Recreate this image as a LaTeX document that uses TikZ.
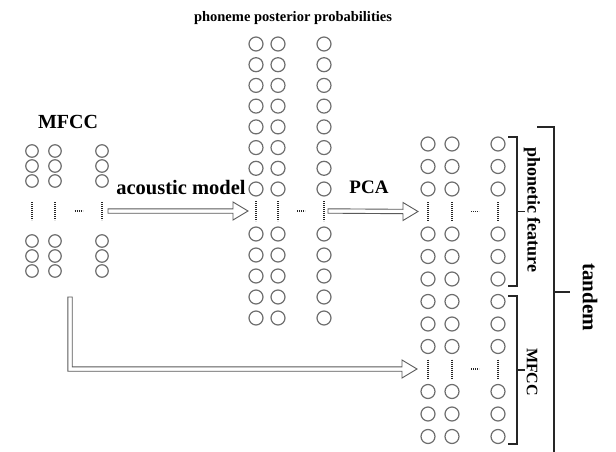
\documentclass[tikz,border=0pt]{standalone}
\usepackage{fontspec}
\setmainfont{Liberation Serif}
\usetikzlibrary{calc}
\definecolor{unitgray}{HTML}{6E6E6E}
\definecolor{linegray}{HTML}{5A5A5A}
\definecolor{inkgray}{HTML}{262626}
\begin{document}
\begin{tikzpicture}[x=1pt,y=-1pt,
  unit/.style={circle,draw=unitgray,line width=1.2pt,minimum size=12.5pt,inner sep=0pt},
  bigunit/.style={unit,minimum size=14pt},
  vdots/.style={draw=inkgray,line width=1.3pt,dash pattern=on 0.8pt off 1.2pt},
  hdots/.style={draw=inkgray,line width=1.3pt,dash pattern=on 0.8pt off 1.2pt},
  flow/.style={draw=linegray,line width=0.9pt,fill=white,line join=miter},
  brk/.style={draw=inkgray,line width=1.1pt},
  lbl/.style={font=\bfseries\fontsize{#1}{#1}\selectfont,inner sep=0pt,text=black}
]
\useasboundingbox (0,0) rectangle (616,452);

% ---- MFCC input frames ----
\foreach \c/\cx in {1/32,2/55,3/102}{
  \foreach \r/\ry in {1/151,2/166,3/181,4/241,5/256,6/271}
    \node[unit] (a-\r-\c) at (\cx,\ry) {};
  \coordinate (a-dots-\c) at (\cx,211);
  \draw[vdots] ($(a-dots-\c)+(0,-9)$) -- ($(a-dots-\c)+(0,9)$);
}
\draw[hdots] ($(a-dots-2)!0.5!(a-dots-3)+(-4,0)$) -- ($(a-dots-2)!0.5!(a-dots-3)+(4,0)$);

% ---- phoneme posterior layer ----
\foreach \c/\cx in {1/256,2/278,3/324}{
  \foreach \r/\ry in {1/44,2/64.7,3/85.4,4/106.1,5/126.9,6/147.6,7/168.3,8/189,
                      9/234,10/255,11/276,12/297,13/318}
    \node[bigunit] (p-\r-\c) at (\cx,\ry) {};
  \coordinate (p-dots-\c) at (\cx,211);
  \draw[vdots] ($(p-dots-\c)+(0,-10)$) -- ($(p-dots-\c)+(0,10)$);
}
\draw[hdots] ($(p-dots-2)!0.5!(p-dots-3)+(-4,0)$) -- ($(p-dots-2)!0.5!(p-dots-3)+(4,0)$);

% ---- tandem feature vector ----
\foreach \c/\cx in {1/428,2/452,3/498}{
  \foreach \r/\ry in {1/144,2/166.5,3/189,4/234,5/256.5,6/279,
                      7/301.5,8/324,9/346.5,10/391.5,11/414,12/436.5}
    \node[bigunit] (r-\r-\c) at (\cx,\ry) {};
  \coordinate (r-dots-\c) at (\cx,211.5);
  \coordinate (r-dotsb-\c) at (\cx,369);
  \draw[vdots] ($(r-dots-\c)+(0,-9.5)$) -- ($(r-dots-\c)+(0,9.5)$);
  \draw[vdots] ($(r-dotsb-\c)+(0,-9.5)$) -- ($(r-dotsb-\c)+(0,9.5)$);
}
\draw[hdots] ($(r-dots-2)!0.5!(r-dots-3)+(-4,0)$) -- ($(r-dots-2)!0.5!(r-dots-3)+(4,0)$);
\draw[hdots] ($(r-dotsb-2)!0.5!(r-dotsb-3)+(-4,0)$) -- ($(r-dotsb-2)!0.5!(r-dotsb-3)+(4,0)$);

% ---- hollow flow arrows ----
\coordinate (am-s) at ($(a-dots-3)+(6,0)$);
\coordinate (am-e) at ($(p-dots-1)+(-8,0)$);
\draw[flow] ($(am-s)+(0,-2.2)$) -- ($(am-e)+(-15,-2.2)$) -- ($(am-e)+(-15,-9)$) -- (am-e)
  -- ($(am-e)+(-15,9)$) -- ($(am-e)+(-15,2.2)$) -- ($(am-s)+(0,2.2)$) -- cycle;

\coordinate (pca-s) at ($(p-dots-3)+(4,0)$);
\coordinate (pca-e) at ($(r-dots-1)+(-10,0)$);
\draw[flow] ($(pca-s)+(0,-2.2)$) -- ($(pca-e)+(-15,-2.2)$) -- ($(pca-e)+(-15,-9)$) -- (pca-e)
  -- ($(pca-e)+(-15,9)$) -- ($(pca-e)+(-15,2.2)$) -- ($(pca-s)+(0,2.2)$) -- cycle;

\coordinate (sk-s) at (70,297);
\coordinate (sk-e) at ($(r-dotsb-1)+(-11,0)$);
\coordinate (sk-k) at (sk-s |- sk-e);
\draw[flow] ($(sk-s)+(-2.2,0)$) -- ($(sk-k)+(-2.2,2.2)$) -- ($(sk-e)+(-15,2.2)$)
  -- ($(sk-e)+(-15,9)$) -- (sk-e) -- ($(sk-e)+(-15,-9)$) -- ($(sk-e)+(-15,-2.2)$)
  -- ($(sk-k)+(2.2,-2.2)$) -- ($(sk-s)+(2.2,0)$) -- cycle;

% ---- labels ----
\node[lbl=14.5] (title) at (293,18) {phoneme posterior probabilities};
\node[lbl=20] (mfcc-in) at (68,122) {MFCC};
\node[lbl=20.5,anchor=base] (am) at (181,194) {acoustic model};
\node[lbl=19,anchor=base] (pca) at (369,193) {PCA};

% ---- brackets ----
\draw[brk] (508,137) -- (517,137) -- (517,286) -- (508,286);
\draw[brk] (517,211.5) -- (525,211.5);
\draw[brk] (508,296) -- (517,296) -- (517,444) -- (508,444);
\draw[brk] (517,370) -- (525,370);
\draw[brk] (537,127) -- (554,127) -- (554,452);
\draw[brk] (554,292) -- (570,292);

\node[lbl=18,rotate=-90] (pf) at (532,210) {phonetic feature};
\node[lbl=16,rotate=-90] (mf) at (532,372) {MFCC};
\node[lbl=21,rotate=-90] (td) at (590,297) {tandem};
\end{tikzpicture}
\end{document}
